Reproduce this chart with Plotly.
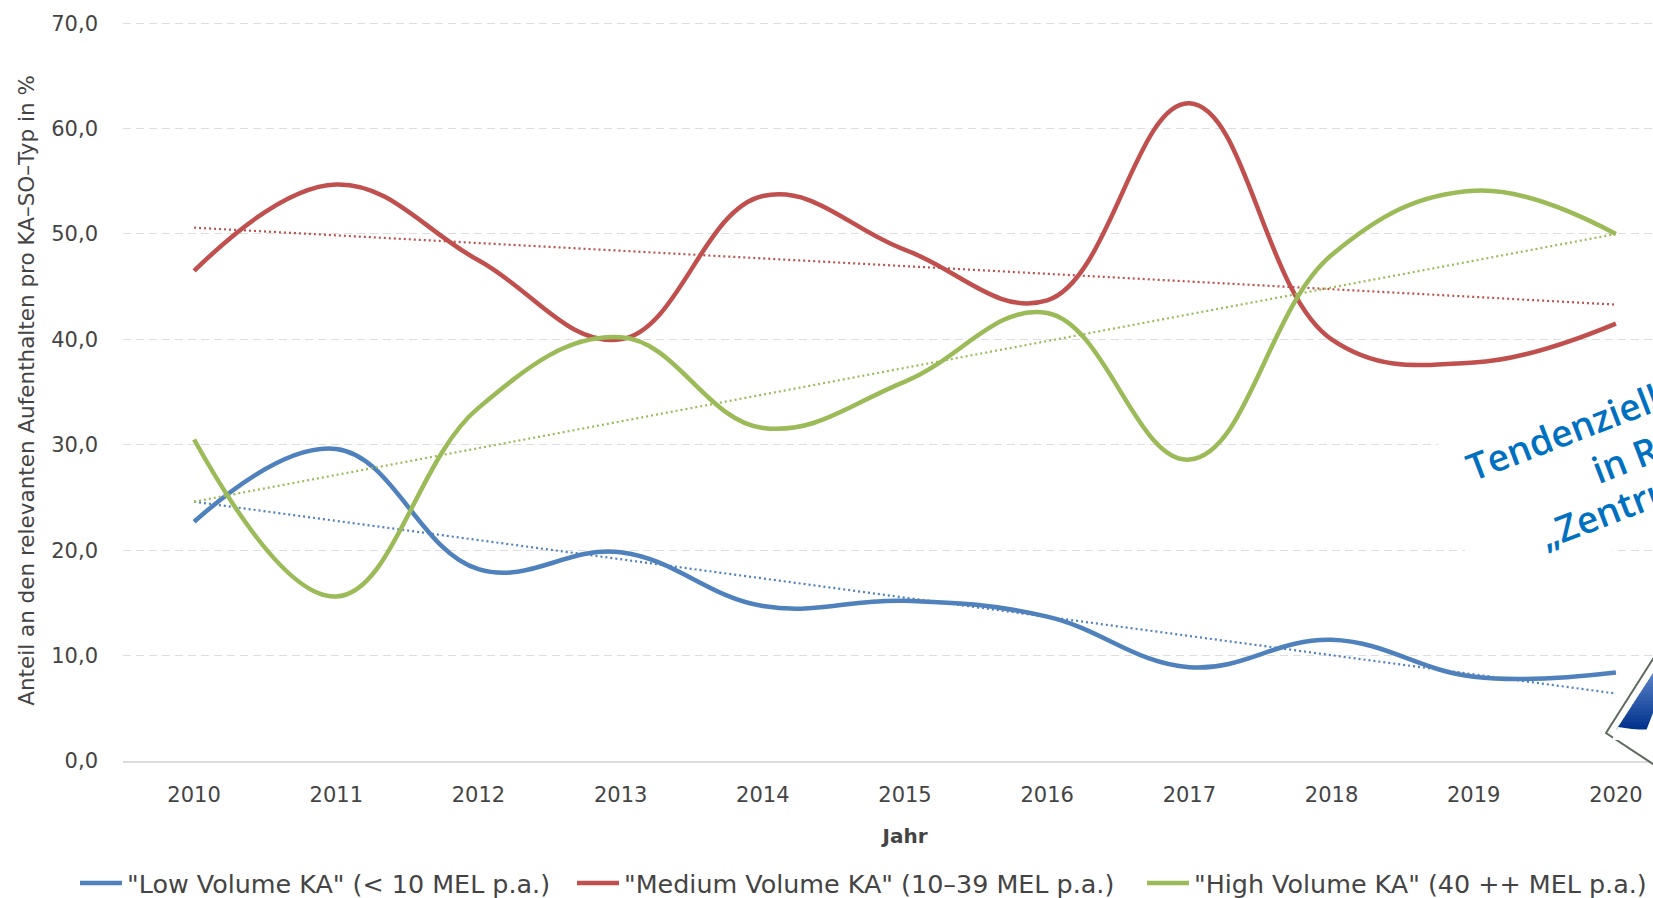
import plotly.graph_objects as go

years = [2010, 2011, 2012, 2013, 2014, 2015, 2016, 2017, 2018, 2019, 2020]
low = [22.7, 29.6, 18.2, 19.8, 14.7, 15.2, 13.7, 8.9, 11.5, 8.0, 8.4]
medium = [46.5, 54.7, 47.5, 40.0, 53.6, 48.5, 43.7, 62.4, 40.0, 37.8, 41.5]
high = [30.5, 15.6, 33.5, 40.2, 31.6, 36.0, 42.5, 28.6, 48.0, 54.1, 50.0]
trend_years = [2010, 2020]
low_trend = [24.6, 6.4]
medium_trend = [50.6, 43.3]
high_trend = [24.6, 50.0]
names = ['"Low Volume KA" (< 10 MEL p.a.)', '"Medium Volume KA" (10–39 MEL p.a.)', '"High Volume KA" (40 ++ MEL p.a.)']
colors = ["#4f81bd", "#c0504d", "#9bbb59"]
y_ticks = [0, 10, 20, 30, 40, 50, 60, 70]
y_labels = ["0,0", "10,0", "20,0", "30,0", "40,0", "50,0", "60,0", "70,0"]
callout_lines = ["Tendenziell", "in R", "„Zentru"]
# The source chart runs past the right edge of the picture: the figure is wider than the page and is cropped.
W, H = 1687, 898
L, R, B = 123, 1687, 761
Y_MAX = 70.3
T = B - Y_MAX * 10.543
font = "DejaVu Sans"
text_c = "#444444"


def fx(px):
    return (px - L) / (R - L)


def fy(py):
    return (B - py) / (B - T)


def poly(points):
    return "M " + " L ".join(f"{fx(x):.5f},{fy(y):.5f}" for x, y in points) + " Z"


fig = go.Figure()
legend_ids = ["legend", "legend2", "legend3"]
for name, vals, tr, c, lid in zip(names, [low, medium, high], [low_trend, medium_trend, high_trend], colors, legend_ids):
    fig.add_trace(go.Scatter(x=trend_years, y=tr, mode="lines", showlegend=False,
                             line=dict(color=c, width=2.2, dash="2px 3px")))
    fig.add_trace(go.Scatter(x=years, y=vals, mode="lines", name=name, legend=lid,
                             line=dict(color=c, width=4.5, shape="spline", smoothing=1.15)))


def leg(px):
    return dict(x=fx(px), xanchor="left", y=fy(860), yanchor="top", orientation="h",
                font=dict(size=25.4, color=text_c), itemwidth=42, bgcolor="rgba(0,0,0,0)")


shapes = [
    dict(type="path", xref="paper", yref="paper", layer="above", line=dict(width=0), fillcolor="white",
         path=poly([(1435, 432), (1478, 602), (1700, 517), (1700, 336)])),
    dict(type="path", xref="paper", yref="paper", layer="above", line=dict(color="#5f6b5f", width=2), fillcolor="white",
         path=poly([(1606, 733), (1665, 640), (1665, 772)])),
]
# gradient of the callout's blue arrow
n = 16
y_top, y_bot = 673.0, 729.0
for i in range(n):
    y0 = y_top + (y_bot - y_top) * i / n
    y1 = y_top + (y_bot - y_top) * (i + 1) / n + 0.5
    xl = lambda y: 1653 - (y - 673) * 35 / 54
    t = (i + 0.5) / n
    col = f"rgb({int(90 - 90 * t)},{int(130 - 80 * t)},{int(200 - 60 * t)})"
    shapes.append(dict(type="path", xref="paper", yref="paper", layer="above", line=dict(width=0), fillcolor=col,
                       path=poly([(xl(y0), y0), (1660, y0), (1660, y1), (xl(y1), y1)])))
shapes.append(dict(type="path", xref="paper", yref="paper", layer="above", line=dict(width=0), fillcolor="white",
                   path=poly([(1646, 731), (1660, 695), (1660, 740), (1612, 740), (1618, 727)])))

ann = []
for text, px, py in zip(callout_lines, [1456, 1582, 1529], [494, 497, 562]):
    ann.append(dict(text=text, xref="paper", yref="paper", x=fx(px), y=fy(py), xanchor="left", yanchor="bottom",
                    showarrow=False, textangle=-21, font=dict(family="Open Sans", size=37, color="#0070c0", weight=600)))

fig.update_layout(
    width=W, height=H, autosize=False, margin=dict(l=L, r=W - R, t=T, b=H - B, autoexpand=False),
    plot_bgcolor="white", paper_bgcolor="white", font=dict(family=font, color=text_c),
    legend=leg(75), legend2=leg(572), legend3=leg(1142),
    shapes=shapes, annotations=ann,
    xaxis=dict(range=[2009.5, 2020.5], tickmode="array", tickvals=years,
               ticktext=[str(y) for y in years], tickfont=dict(size=21, color=text_c), showgrid=False,
               showline=True, linecolor="#dddddd", linewidth=1.5, ticks="", zeroline=False, ticklabelstandoff=14,
               title=dict(text="<b>Jahr</b>", font=dict(size=20, color=text_c), standoff=23)),
    yaxis=dict(range=[0, Y_MAX], tickmode="array", tickvals=y_ticks, ticktext=y_labels,
               tickfont=dict(size=21, color=text_c), showgrid=True, gridcolor="#dddddd", griddash="8px 5px",
               gridwidth=1, zeroline=False, ticks="", ticklabelstandoff=24,
               title=dict(text="Anteil an den relevanten Aufenthalten pro KA–SO–Typ in %",
                          font=dict(size=21.5, color=text_c), standoff=10)),
)
fig.write_html("out.html", config=dict(displayModeBar=False),
               post_script="document.body.style.margin='0';document.body.style.overflow='hidden';document.documentElement.style.overflow='hidden';")
